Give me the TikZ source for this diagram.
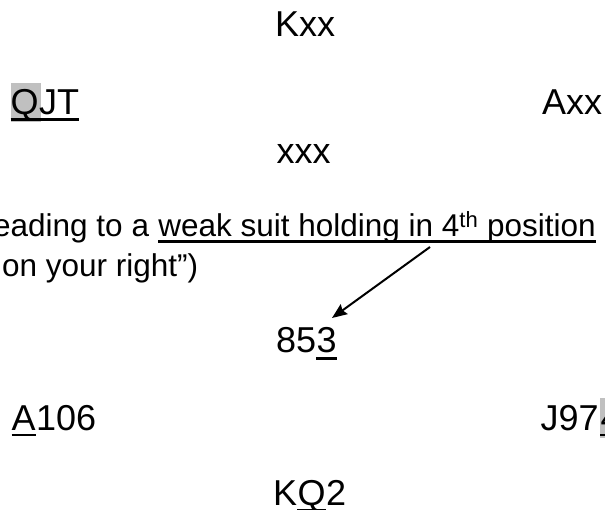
\documentclass[tikz,border=0pt]{standalone}
\usepackage{fontspec}
\setmainfont{Liberation Sans}
\usetikzlibrary{calc,arrows.meta}
\definecolor{hlgray}{RGB}{192,192,192}
\tikzset{
  card/.style={inner sep=0pt, anchor=base west, font=\fontsize{36}{42}\selectfont},
  note/.style={inner sep=0pt, anchor=base west, font=\fontsize{31.5}{40}\selectfont},
  uline/.style={line width=2.6pt},
  hilite/.style={fill=hlgray},
  pointer/.style={-{Stealth[length=15pt,width=12pt,inset=2pt]}, line width=2pt}
}

\begin{document}
\begin{tikzpicture}[x=1pt,y=-1pt]
    \path[use as bounding box, clip] (0,0) rectangle (605,510);
    % first deal
    \node[card] (north1) at (275,37) {Kxx};
    \fill[hilite] (10.5,83) rectangle (40.5,122.5);
    \node[card] (westQ) at (10.5,115) {Q};
    \node[card] (westJT) at (westQ.base east) {JT};
    \draw[uline] ($(westQ.base west)+(0,4.5)$) -- ($(westJT.base east)+(0,4.5)$);
    \node[card] (east1) at (542,115) {Axx};
    \node[card] (south1) at (276.5,164) {xxx};
    % the text
    \node[note] (lead) at (-7,236.5) {eading to a};
    \node[note] (weak) at ($(lead.base east)+(8.8,0)$) {weak suit holding in 4\textsuperscript{th} position};
    \draw[line width=2.4pt] ($(weak.base west)+(0,5)$) -- ($(weak.base east)+(0,5)$);
    \node[note] (right) at (2,277) {on your right”)};
    \coordinate (src) at (430,247);
    \coordinate (tip) at (332,318);
    \draw[pointer] (src) -- (tip);
    % second deal
    \node[card] (north85) at (276,353) {85};
    \node[card] (north3) at (north85.base east) {3};
    \draw[uline] ($(north3.base west)+(0,5.5)$) -- ($(north3.base east)+(0,5.5)$);
    \node[card] (westA) at (11.5,430) {A};
    \node[card] (west106) at (westA.base east) {106};
    \draw[uline] ($(westA.base west)+(0,5)$) -- ($(westA.base east)+(0,5)$);
    \node[card] (eastJ) at (540.5,430) {J97};
    \fill[hilite] ($(eastJ.base east)+(1.5,-32)$) rectangle ++(20,39.5);
    \node[card] (east4) at ($(eastJ.base east)+(1.5,0)$) {4};
    \draw[uline] ($(east4.base west)+(0,5)$) -- ($(east4.base east)+(0,5)$);
    \node[card] (southK) at (273,505) {K};
    \node[card] (southQ) at (southK.base east) {Q};
    \node[card] (south2) at (southQ.base east) {2};
    \draw[uline] ($(southQ.base west)+(0,5)$) -- ($(southQ.base east)+(0,5)$);
\end{tikzpicture}
\end{document}
